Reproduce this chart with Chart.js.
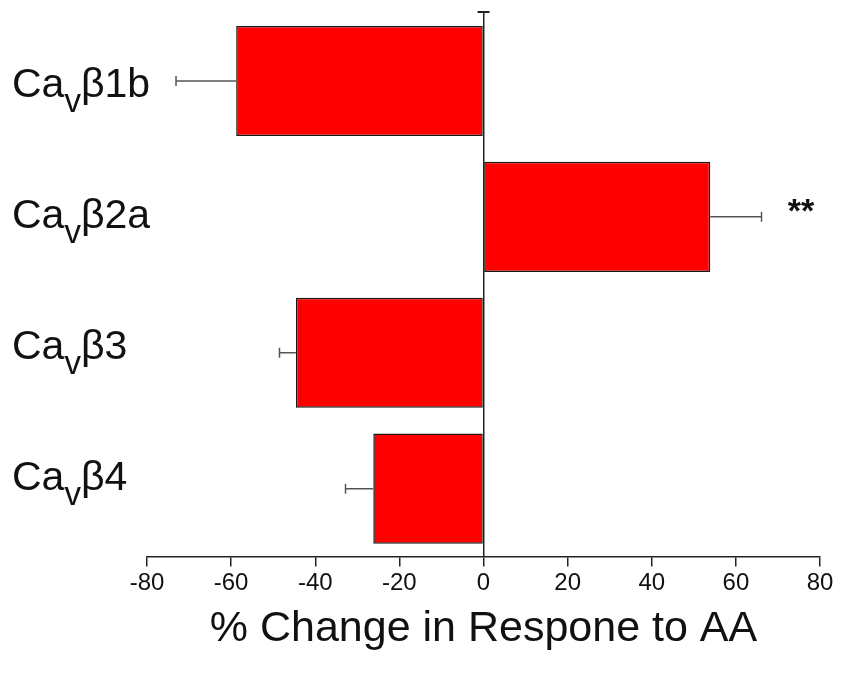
<!DOCTYPE html>
<html>
<head>
<meta charset="utf-8">
<script src="https://cdn.jsdelivr.net/npm/chart.js@4/dist/chart.umd.min.js"></script>
<style>
  html, body { margin: 0; padding: 0; background: #fff; }
  #wrap { width: 841px; height: 675px; }
</style>
</head>
<body>
<div id="wrap"><canvas id="grafico" width="841" height="675"></canvas></div>
<script>
// datos
const categorias = ["Cavβ1b", "Cavβ2a", "Cavβ3", "Cavβ4"];
const valores = [-58.8, 53.9, -44.6, -26.2];
const errores = [14.3, 12.2, 3.9, 6.6];
const marcas = ["", "**", "", ""];
const ticksX = [-80, -60, -40, -20, 0, 20, 40, 60, 80];

const fuente = "'Liberation Sans', Arial, sans-serif";

// barras de error, etiquetas con subindice y asteriscos
const extras = {
  id: "extras",
  afterDatasetsDraw(chart) {
    const ctx = chart.ctx;
    const x = chart.scales.x;
    const y = chart.scales.y;
    ctx.save();

    // tope del eje y (en x = 0)
    const x0 = x.getPixelForValue(0);
    ctx.strokeStyle = "#222";
    ctx.lineWidth = 2;
    ctx.beginPath();
    ctx.moveTo(x0 - 6, chart.chartArea.top - 1);
    ctx.lineTo(x0 + 6, chart.chartArea.top - 1);
    ctx.stroke();

    valores.forEach((v, i) => {
      const yc = y.getPixelForValue(i);
      const fin = v < 0 ? v - errores[i] : v + errores[i];
      const xa = x.getPixelForValue(v);
      const xb = x.getPixelForValue(fin);
      ctx.strokeStyle = "#555";
      ctx.lineWidth = 1.5;
      ctx.beginPath();
      ctx.moveTo(xa, yc);
      ctx.lineTo(xb, yc);
      ctx.moveTo(xb, yc - 5);
      ctx.lineTo(xb, yc + 5);
      ctx.stroke();

      if (marcas[i]) {
        ctx.fillStyle = "#111";
        ctx.font = "bold 34px " + fuente;
        ctx.textAlign = "center";
        ctx.textBaseline = "middle";
        ctx.fillText(marcas[i], x.getPixelForValue(75.5), yc - 4);
      }
    });

    // etiquetas Ca(v)β..
    categorias.forEach((c, i) => {
      const base = y.getPixelForValue(i) + 16 - 5 * i;
      let px = 12;
      ctx.fillStyle = "#111";
      ctx.textAlign = "left";
      ctx.textBaseline = "alphabetic";
      ctx.font = "41px " + fuente;
      ctx.fillText(c.slice(0, 2), px, base);
      px += ctx.measureText(c.slice(0, 2)).width;
      ctx.font = "33px " + fuente;
      ctx.fillText(c.slice(2, 3), px, base + 15);
      px += ctx.measureText(c.slice(2, 3)).width;
      ctx.font = "41px " + fuente;
      ctx.fillText(c.slice(3), px, base);
    });
    ctx.restore();
  },
};

const ctx = document.getElementById("grafico").getContext("2d");
new Chart(ctx, {
  type: "bar",
  data: {
    labels: categorias,
    datasets: [
      {
        data: valores,
        backgroundColor: "#ff0000",
        borderColor: "#1a1a1a",
        borderWidth: 1.5,
        borderSkipped: false,
        barPercentage: 0.81,
        categoryPercentage: 1,
      },
    ],
  },
  options: {
    indexAxis: "y",
    responsive: false,
    animation: false,
    layout: { padding: { top: 13, right: 21, bottom: 0, left: 0 } },
    plugins: { legend: { display: false }, tooltip: { enabled: false } },
    scales: {
      x: {
        min: -80,
        max: 80,
        afterBuildTicks: (s) => { s.ticks = ticksX.map((v) => ({ value: v })); },
        border: { display: true, color: "#222", width: 1.5 },
        grid: {
          drawOnChartArea: true,
          color: (c) => (c.tick && c.tick.value === 0 ? "#222" : "rgba(0,0,0,0)"),
          lineWidth: 1.5,
          tickColor: "#222",
          tickLength: 10,
        },
        ticks: {
          color: "#111",
          padding: 2,
          font: { family: fuente, size: 24 },
        },
        title: {
          display: true,
          text: "% Change in Respone to AA",
          color: "#111",
          font: { family: fuente, size: 43 },
          padding: { top: 4, bottom: 20 },
        },
      },
      y: {
        afterFit: (s) => { s.width = 147; },
        grid: { display: false },
        border: { display: false },
        ticks: { display: false },
      },
    },
  },
  plugins: [extras],
});
</script>
</body>
</html>
